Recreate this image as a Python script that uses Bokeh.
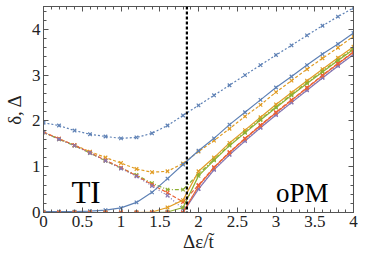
from bokeh.plotting import figure
from bokeh.models import LinearAxis, Range1d, Span, Label, FixedTicker, CustomJSTickFormatter
from bokeh.embed import file_html
from bokeh.resources import INLINE

# data
x = [0.0, 0.2, 0.4, 0.6, 0.8, 1.0, 1.2, 1.4, 1.6, 1.8, 2.0, 2.2, 2.4, 2.6, 2.8, 3.0, 3.2, 3.4, 3.6, 3.8, 4.0]

blue_delta = [1.96, 1.90, 1.79, 1.71, 1.66, 1.62, 1.64, 1.73, 1.90, 2.12, 2.34, 2.56, 2.78, 3.00, 3.22, 3.44, 3.65, 3.87, 4.08, 4.28, 4.47]
blue_gap = [0.02, 0.02, 0.02, 0.03, 0.05, 0.10, 0.22, 0.44, 0.74, 1.05, 1.35, 1.62, 1.92, 2.19, 2.46, 2.73, 2.97, 3.22, 3.46, 3.68, 3.92]

orange_delta = [1.75, 1.61, 1.47, 1.33, 1.20, 1.08, 0.95, 0.88, 0.90, 1.07, 1.33, 1.57, 1.83, 2.10, 2.35, 2.63, 2.88, 3.13, 3.37, 3.60, 3.85]
orange_gap = [0.0, 0.0, 0.0, 0.0, 0.0, 0.0, 0.0, 0.01, 0.11, 0.27, 0.90, 1.20, 1.52, 1.80, 2.08, 2.36, 2.62, 2.88, 3.13, 3.38, 3.62]

green_delta = [1.75, 1.60, 1.46, 1.30, 1.13, 0.97, 0.82, 0.64, 0.50, 0.50, 0.84, 1.16, 1.48, 1.76, 2.04, 2.31, 2.58, 2.84, 3.09, 3.34, 3.58]
green_gap = [0.0, 0.0, 0.0, 0.0, 0.0, 0.0, 0.0, 0.0, 0.01, 0.11, 0.80, 1.14, 1.46, 1.74, 2.02, 2.29, 2.56, 2.82, 3.07, 3.32, 3.56]

purple_delta = [1.75, 1.60, 1.46, 1.30, 1.13, 0.96, 0.79, 0.58, 0.37, 0.08, 0.52, 0.94, 1.27, 1.57, 1.86, 2.14, 2.41, 2.68, 2.95, 3.21, 3.46]
purple_gap = [0.0, 0.0, 0.0, 0.0, 0.0, 0.0, 0.0, 0.0, 0.0, 0.0, 0.51, 0.93, 1.26, 1.56, 1.85, 2.13, 2.40, 2.67, 2.94, 3.20, 3.45]

red_delta = [1.76, 1.61, 1.47, 1.31, 1.14, 0.98, 0.80, 0.61, 0.43, 0.23, 0.60, 0.99, 1.32, 1.62, 1.91, 2.19, 2.46, 2.73, 3.00, 3.26, 3.51]
red_gap = [0.0, 0.0, 0.0, 0.0, 0.0, 0.0, 0.0, 0.0, 0.0, 0.0, 0.58, 0.98, 1.31, 1.61, 1.90, 2.18, 2.45, 2.72, 2.99, 3.25, 3.50]

transition = 1.85

x_ticks = [0, 0.5, 1, 1.5, 2, 2.5, 3, 3.5, 4]
y_ticks = [0, 1, 2, 3, 4]

FONT = "Liberation Serif"
FRAME = "#555555"

p = figure(width=358, height=254, x_range=Range1d(0, 4), y_range=Range1d(0, 4.5),
           output_backend="svg", toolbar_location=None,
           min_border_left=41, min_border_right=5, min_border_top=6, min_border_bottom=37)
p.xgrid.visible = False
p.ygrid.visible = False
p.outline_line_color = FRAME
p.outline_line_width = 1
p.background_fill_color = "white"
p.border_fill_color = "white"

xminor = [i / 10 for i in range(0, 41)]
yminor = [i / 5 for i in range(0, 23)]
fmt = CustomJSTickFormatter(code="return tick.toString();")


def style_axis(ax, labels=True):
    ax.axis_line_color = FRAME
    ax.major_tick_line_color = FRAME
    ax.minor_tick_line_color = FRAME
    ax.major_tick_in = 5
    ax.major_tick_out = 0
    ax.minor_tick_in = 3
    ax.minor_tick_out = 0
    ax.major_label_text_font = FONT
    if labels:
        ax.major_label_text_color = "#222222"
        ax.major_label_text_font_size = "17px"
        ax.major_label_standoff = 3
    else:
        ax.major_label_text_color = None
        ax.major_label_text_font_size = "1px"
        ax.major_label_standoff = 0


p.xaxis.ticker = FixedTicker(ticks=x_ticks, minor_ticks=xminor)
p.yaxis.ticker = FixedTicker(ticks=y_ticks, minor_ticks=yminor)
p.xaxis.formatter = fmt
p.yaxis.formatter = fmt
style_axis(p.xaxis[0])
style_axis(p.yaxis[0])
p.xaxis.axis_label = "Δε/t\u0303"
p.yaxis.axis_label = "δ, Δ"
for ax in (p.xaxis[0], p.yaxis[0]):
    ax.axis_label_text_font = FONT
    ax.axis_label_text_font_size = "19px"
    ax.axis_label_text_font_style = "normal"
    ax.axis_label_text_color = "#222222"
p.xaxis.axis_label_standoff = 1
p.yaxis.axis_label_standoff = 4

top = LinearAxis(ticker=FixedTicker(ticks=x_ticks, minor_ticks=xminor), formatter=fmt)
style_axis(top, labels=False)
p.add_layout(top, "above")
right = LinearAxis(ticker=FixedTicker(ticks=y_ticks, minor_ticks=yminor), formatter=fmt)
style_axis(right, labels=False)
p.add_layout(right, "right")

series_delta = [
    ("#5E81B5", blue_delta, "2 2"),
    ("#E19C24", orange_delta, "3 2"),
    ("#8FB032", green_delta, "4 2 1 2"),
    ("#EB6235", red_delta, "4 2"),
    ("#8778B3", purple_delta, "1 2"),
]
series_gap = [
    ("#5E81B5", blue_gap),
    ("#E19C24", orange_gap),
    ("#8FB032", green_gap),
    ("#8778B3", purple_gap),
    ("#EB6235", red_gap),
]

for color, d, dash in series_delta:
    p.line(x, d, line_color=color, line_width=1.2, line_dash=dash)
    p.scatter(x, d, marker="x", size=5, line_color=color, line_width=1.2)

for color, g in series_gap:
    p.line(x, g, line_color=color, line_width=1.2)
    p.scatter(x, g, marker="x", size=5, line_color=color, line_width=1.2)

p.add_layout(Span(location=transition, dimension="height", line_color="black",
                  line_width=2.2, line_dash="3 2"))

p.add_layout(Label(x=0.36, y=0.43, text="TI", text_font=FONT, text_font_size="31px",
                   text_baseline="alphabetic", text_align="left", text_color="black"))
p.add_layout(Label(x=3.0, y=0.43, text="oPM", text_font=FONT, text_font_size="27px",
                   text_baseline="alphabetic", text_align="left", text_color="black"))

open("out.html", "w").write(file_html(p, INLINE))
